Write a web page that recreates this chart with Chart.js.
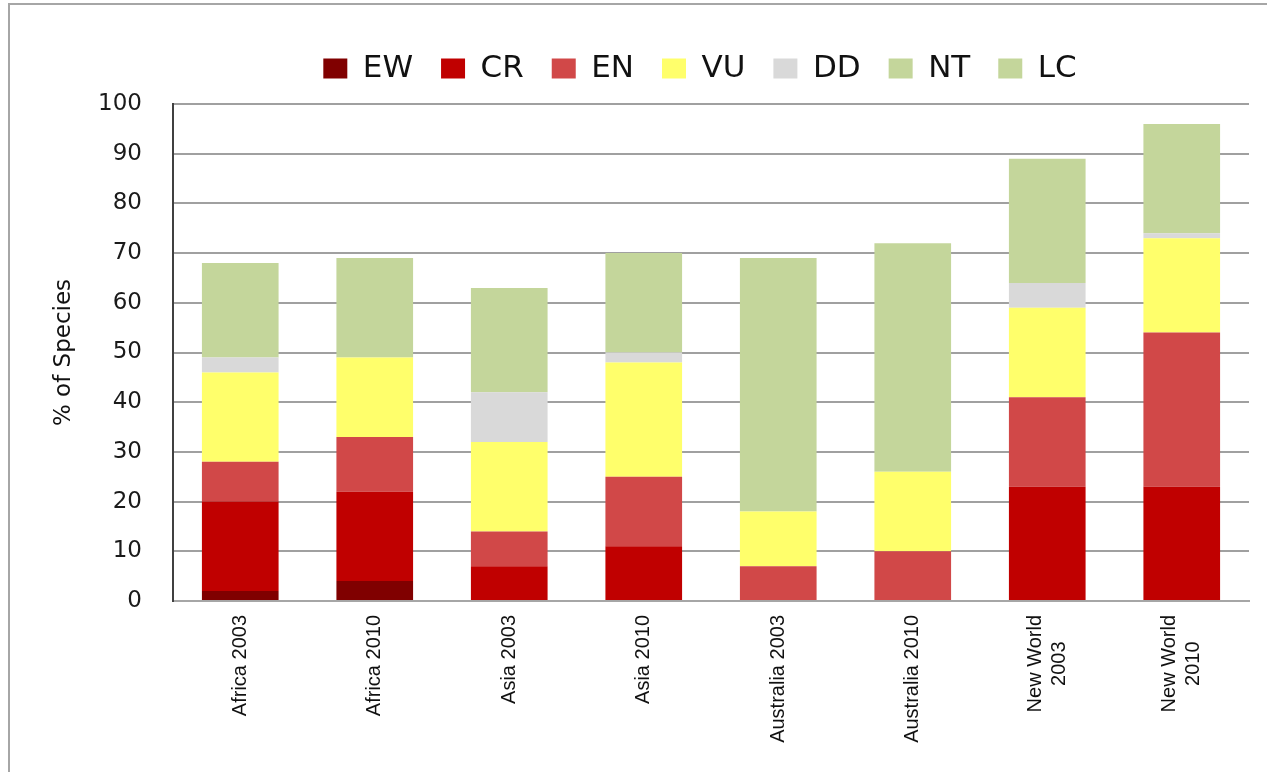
<!DOCTYPE html>
<html>
<head>
<meta charset="utf-8">
<script src="https://cdn.jsdelivr.net/npm/chart.js@4"></script>
<style>
  html, body { margin: 0; padding: 0; background: #fff; overflow: hidden; width: 1267px; height: 772px; }
  #frame { position: absolute; left: 8px; top: 3px; width: 1420px; height: 820px; border: 2px solid #a6a6a6; box-sizing: content-box; }
  #wrap { position: absolute; left: 0; top: 0; width: 1380px; height: 767px; }
</style>
</head>
<body>
<div id="frame"><div id="wrap"><canvas id="c"></canvas></div></div>
<script>
const categories = ['Africa 2003', 'Africa 2010', 'Asia 2003', 'Asia 2010', 'Australia 2003', 'Australia 2010', ['New World', '2003'], ['New World', '2010']];
const EW = [2, 4, 0, 0, 0, 0, 0, 0];
const CR = [18, 18, 7, 11, 0, 0, 23, 23];
const EN = [8, 11, 7, 14, 7, 10, 18, 31];
const VU = [18, 16, 18, 23, 11, 16, 18, 19];
const DD = [3, 0, 10, 2, 0, 0, 5, 1];
const NT = [0, 0, 0, 0, 0, 0, 0, 0];
const LC = [19, 20, 21, 20, 51, 46, 25, 22];
const yTicks = [0, 10, 20, 30, 40, 50, 60, 70, 80, 90, 100];

const series = [
  ['EW', EW, '#800000'],
  ['CR', CR, '#c00000'],
  ['EN', EN, '#d14848'],
  ['VU', VU, '#ffff6b'],
  ['DD', DD, '#d9d9d9'],
  ['NT', NT, '#c4d69b'],
  ['LC', LC, '#c4d69b']
];

const xFont = { family: "'Liberation Sans Narrow', 'Liberation Sans', sans-serif", size: 20 };

const legendMargin = {
  id: 'legendMargin',
  beforeLayout(chart) {
    const lg = chart.legend;
    if (lg && !lg._patched) {
      const orig = lg.fit;
      lg.fit = function () { orig.call(this); this.height += 10; };
      lg._patched = true;
    }
  }
};

// centre multi-line category labels on each other, as in the reference
const centerMultiLine = {
  id: 'centerMultiLine',
  beforeDraw(chart) {
    const s = chart.scales.x;
    const items = s.getLabelItems();
    const ctx = chart.ctx;
    ctx.save();
    ctx.font = xFont.size + 'px ' + xFont.family;
    items.forEach(it => {
      if (Array.isArray(it.label) && !it._centered) {
        const w = Math.max(...it.label.map(t => ctx.measureText(t).width));
        const lh = xFont.size * 1.2;
        it.options.textAlign = 'center';
        it.options.translation[1] += w / 2;
        it.options.translation[0] -= lh * (it.label.length - 1) / 2;
        it._centered = true;
      }
    });
    ctx.restore();
  }
};

new Chart(document.getElementById('c'), {
  type: 'bar',
  data: {
    labels: categories,
    datasets: series.map(([label, data, color]) => ({
      label, data, backgroundColor: color, borderWidth: 0,
      barPercentage: 0.57, categoryPercentage: 1.0, yAxisID: 'y'
    }))
  },
  plugins: [legendMargin, centerMultiLine],
  options: {
    responsive: true,
    maintainAspectRatio: false,
    animation: false,
    layout: { padding: { top: 20, left: 0, right: 0, bottom: 11 } },
    plugins: {
      tooltip: { enabled: false },
      legend: {
        position: 'top',
        labels: {
          boxWidth: 24, boxHeight: 20, padding: 28,
          color: '#111',
          font: { family: 'DejaVu Sans', size: 31 }
        }
      }
    },
    scales: {
      x: {
        stacked: true,
        grid: { display: false, drawTicks: false },
        border: { display: true, color: '#a6a6a6', width: 2 },
        ticks: {
          autoSkip: false, minRotation: 90, maxRotation: 90, padding: 14,
          color: '#111',
          font: xFont
        },
        afterFit: (s) => { s.height = 160; }
      },
      y: {
        stacked: true,
        position: 'left',
        min: 0, max: 100,
        afterBuildTicks: (s) => { s.ticks = yTicks.map(v => ({ value: v })); },
        grid: { color: '#a0a0a0', lineWidth: 2, drawTicks: false },
        border: { display: true, color: '#404040', width: 2 },
        ticks: {
          padding: 31, color: '#1a1a1a',
          font: { family: 'DejaVu Sans', size: 23 }
        },
        title: {
          display: true, text: '% of Species', color: '#111',
          font: { family: 'DejaVu Sans', size: 23 },
          padding: { top: 40, bottom: 0 }
        },
        afterFit: (s) => { s.width = 163; }
      },
      y2: {
        position: 'right',
        display: true,
        grid: { display: false, drawTicks: false },
        border: { display: false },
        ticks: { display: false },
        afterFit: (s) => { s.width = 141; }
      }
    }
  }
});
</script>
</body>
</html>
